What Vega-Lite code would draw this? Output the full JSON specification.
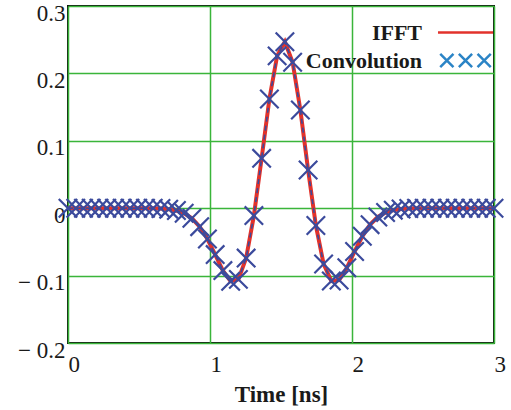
{
  "$schema": "https://vega.github.io/schema/vega-lite/v6.json",
  "width": 426,
  "height": 337,
  "autosize": {"type": "none"},
  "padding": {"left": 68, "top": 6, "right": 17, "bottom": 67},
  "background": "white",
  "config": {
    "view": {"stroke": "#111111", "strokeWidth": 2},
    "font": "Liberation Serif",
    "axis": {
      "domain": false,
      "ticks": false,
      "grid": true,
      "gridColor": "#3ab53a",
      "gridWidth": 1.5,
      "gridOpacity": 1,
      "labelFont": "Liberation Serif",
      "labelFontSize": 23,
      "labelColor": "#1a1a1a",
      "labelOverlap": false,
      "labelFlush": false,
      "titleFont": "Liberation Serif",
      "titleColor": "#1a1a1a"
    }
  },
  "data": {
    "values": [
      {"t": 0, "v": 0}, {"t": 0.0545, "v": 0}, {"t": 0.1091, "v": 0}, {"t": 0.1636, "v": 0},
      {"t": 0.2182, "v": 0}, {"t": 0.2727, "v": 0}, {"t": 0.3273, "v": 0}, {"t": 0.3818, "v": 0},
      {"t": 0.4364, "v": 0}, {"t": 0.4909, "v": 0}, {"t": 0.5455, "v": 0}, {"t": 0.6, "v": -0.0001},
      {"t": 0.6545, "v": -0.0005}, {"t": 0.7091, "v": -0.0014}, {"t": 0.7636, "v": -0.0034}, {"t": 0.8182, "v": -0.0075},
      {"t": 0.8727, "v": -0.015}, {"t": 0.9273, "v": -0.0274}, {"t": 0.9818, "v": -0.0457}, {"t": 1.0364, "v": -0.0688},
      {"t": 1.0909, "v": -0.0926}, {"t": 1.1455, "v": -0.1085}, {"t": 1.2, "v": -0.1056}, {"t": 1.2545, "v": -0.074},
      {"t": 1.3091, "v": -0.011}, {"t": 1.3636, "v": 0.074}, {"t": 1.4182, "v": 0.162}, {"t": 1.4727, "v": 0.226},
      {"t": 1.5273, "v": 0.247}, {"t": 1.5818, "v": 0.2166}, {"t": 1.6364, "v": 0.1457}, {"t": 1.6909, "v": 0.0567},
      {"t": 1.7455, "v": -0.0256}, {"t": 1.8, "v": -0.0827}, {"t": 1.8545, "v": -0.108}, {"t": 1.9091, "v": -0.1066},
      {"t": 1.9636, "v": -0.0884}, {"t": 2.0182, "v": -0.0642}, {"t": 2.0727, "v": -0.0417}, {"t": 2.1273, "v": -0.0244},
      {"t": 2.1818, "v": -0.013}, {"t": 2.2364, "v": -0.0064}, {"t": 2.2909, "v": -0.0029}, {"t": 2.3455, "v": -0.0012},
      {"t": 2.4, "v": -0.0004}, {"t": 2.4545, "v": -0.0001}, {"t": 2.5091, "v": 0}, {"t": 2.5636, "v": 0},
      {"t": 2.6182, "v": 0}, {"t": 2.6727, "v": 0}, {"t": 2.7273, "v": 0}, {"t": 2.7818, "v": 0},
      {"t": 2.8364, "v": 0}, {"t": 2.8909, "v": 0}, {"t": 2.9455, "v": 0}, {"t": 3.0, "v": 0}
    ]
  },
  "encoding": {
    "x": {
      "field": "t", "type": "quantitative",
      "scale": {"domain": [0, 3], "nice": false, "zero": false},
      "axis": {"values": [0, 1, 2, 3], "labelAlign": "left", "labelDx": -1, "labelBaseline": "top", "labelPadding": 10,
               "title": "Time [ns]", "titleFontSize": 23, "titleFontWeight": "bold", "titlePadding": 7}
    },
    "y": {
      "field": "v", "type": "quantitative",
      "scale": {"domain": [-0.2, 0.3], "nice": false, "zero": false},
      "axis": {"values": [-0.2, -0.1, 0, 0.1, 0.2, 0.3], "title": null, "labelPadding": 3, "labelOffset": 7, "labelBaseline": "middle",
               "labelExpr": "datum.value < -0.0001 ? '\u2212 ' + format(-datum.value, '.1f') : (abs(datum.value) < 0.0001 ? '0' : format(datum.value, '.1f'))"}
    }
  },
  "layer": [
    {
      "mark": {"type": "line", "strokeWidth": 4, "clip": true},
      "encoding": {
        "color": {
          "datum": "IFFT",
          "scale": {"domain": ["IFFT", "Convolution"], "range": ["#e2322b", "#2b84c6"]},
          "legend": {
            "orient": "none", "legendX": 383, "legendY": 12, "title": null,
            "symbolSize": 700, "labelAlign": "right", "labelOffset": -58,
            "labelFont": "Liberation Serif", "labelFontSize": 22, "labelFontWeight": "bold", "labelColor": "#1a1a1a",
            "rowPadding": 2, "padding": 0,
            "encode": {
              "symbols": {
                "update": {
                  "shape": {"signal": "datum.value === 'IFFT' ? 'M-2.08,0L2.08,0' : 'M-1.91,-0.5L-0.91,0.5M-0.91,-0.5L-1.91,0.5M-0.5,-0.5L0.5,0.5M0.5,-0.5L-0.5,0.5M0.91,-0.5L1.91,0.5M1.91,-0.5L0.91,0.5'"},
                  "stroke": {"signal": "datum.value === 'IFFT' ? '#e2322b' : '#2b84c6'"},
                  "fill": {"value": "transparent"},
                  "strokeWidth": {"value": 2.5},
                  "opacity": {"value": 1}
                }
              }
            }
          }
        }
      }
    },
    {
      "mark": {"type": "line", "strokeWidth": 1.6, "color": "#3b4a9c", "strokeDash": [5, 4], "clip": true},
      "encoding": {}
    },
    {
      "mark": {"type": "point", "shape": "M-1,-1L1,1M1,-1L-1,1", "size": 340, "strokeWidth": 2.2, "filled": false, "opacity": 1, "color": "#3b4a9c"},
      "encoding": {}
    }
  ]
}
